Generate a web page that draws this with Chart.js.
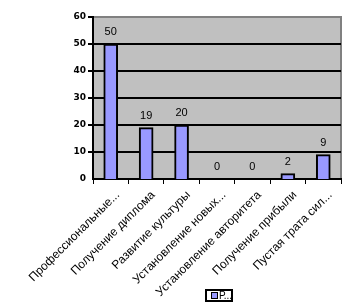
<!DOCTYPE html>
<html><head><meta charset="utf-8">
<script src="https://cdn.jsdelivr.net/npm/chart.js@4/dist/chart.umd.min.js"></script>
<style>html,body{margin:0;padding:0;background:#fff}#wrap{width:351px;height:308px}</style>
</head><body><div id="wrap"><canvas id="c" width="351" height="308"></canvas></div>
<script>
const categories = ["Профессиональные...", "Получение диплома", "Развитие культуры", "Установление новых...", "Установление авторитета", "Получение прибыли", "Пустая трата сил..."];
const values = [50, 19, 20, 0, 0, 2, 9];
const yTicks = [0, 10, 20, 30, 40, 50, 60];
const seriesName = "Р...";

const plotBg = {
  id: 'plotBg',
  beforeDraw(chart) {
    const {ctx, chartArea: a} = chart;
    ctx.save();
    ctx.fillStyle = '#c0c0c0';
    ctx.fillRect(a.left, a.top, a.right - a.left, a.bottom - a.top);
    ctx.strokeStyle = '#808080';
    ctx.lineWidth = 2;
    ctx.beginPath();
    ctx.moveTo(a.left, a.top); ctx.lineTo(a.right, a.top); ctx.lineTo(a.right, a.bottom);
    ctx.stroke();
    ctx.restore();
  }
};
const valueLabels = {
  id: 'valueLabels',
  afterDatasetsDraw(chart) {
    const {ctx} = chart;
    const meta = chart.getDatasetMeta(0);
    ctx.save();
    ctx.font = '11px "Liberation Sans", Arial, sans-serif';
    ctx.fillStyle = '#000';
    ctx.textAlign = 'center';
    ctx.textBaseline = 'middle';
    meta.data.forEach((el, i) => {
      ctx.fillText(String(values[i]), el.x, el.y - 12);
    });
    ctx.restore();
  }
};
const customLegend = {
  id: 'customLegend',
  afterDraw(chart) {
    const {ctx} = chart;
    ctx.save();
    ctx.strokeStyle = '#000';
    ctx.lineWidth = 2;
    ctx.fillStyle = '#fff';
    ctx.fillRect(206, 290, 26, 11);
    ctx.strokeRect(206, 290, 26, 11);
    ctx.fillStyle = '#9999ff';
    ctx.fillRect(212, 293, 5, 5);
    ctx.lineWidth = 1;
    ctx.strokeRect(211.5, 292.5, 6, 6);
    ctx.fillStyle = '#000';
    ctx.font = '10px "Liberation Sans", Arial, sans-serif';
    ctx.textBaseline = 'middle';
    ctx.fillText(seriesName, 219, 296);
    ctx.restore();
  }
};

new Chart(document.getElementById('c'), {
  type: 'bar',
  data: {
    labels: categories,
    datasets: [{
      label: seriesName,
      data: values,
      backgroundColor: '#9999ff',
      borderColor: '#000',
      borderWidth: 2,
      barThickness: 14
    }]
  },
  options: {
    responsive: false,
    animation: false,
    layout: { padding: { top: 17, right: 10, left: 0, bottom: 0 } },
    plugins: { legend: { display: false }, tooltip: { enabled: false } },
    scales: {
      x: {
        offset: true,
        grid: { offset: true, drawOnChartArea: false, drawTicks: true, tickLength: 5, color: '#000', lineWidth: 1 },
        border: { color: '#000', width: 2 },
        ticks: {
          autoSkip: false, minRotation: 45, maxRotation: 45, padding: 4, labelOffset: 7,
          color: '#000',
          font: { family: '"Liberation Sans", Arial, sans-serif', size: 12 }
        },
        afterFit(s) { s.height = 129; }
      },
      y: {
        min: 0, max: 60,
        afterBuildTicks(s) { s.ticks = yTicks.map(v => ({value: v})); },
        grid: {
          color: (c) => (c.tick && c.tick.value === 60) ? '#808080' : '#000',
          tickColor: '#000',
          lineWidth: (c) => (c.tick && c.tick.value === 0) ? 0 : 2,
          tickLength: 5
        },
        border: { color: '#000', width: 2 },
        ticks: {
          color: '#000', padding: 2,
          font: { family: '"DejaVu Sans", sans-serif', size: 9, weight: 'bold' }
        },
        afterFit(s) { s.width = 93; }
      }
    }
  },
  plugins: [plotBg, valueLabels, customLegend]
});
</script>
</body></html>
